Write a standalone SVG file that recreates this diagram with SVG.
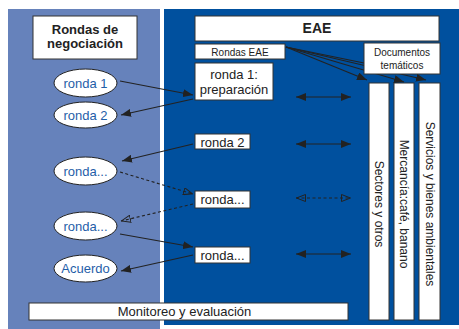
<svg xmlns="http://www.w3.org/2000/svg" width="459" height="329" viewBox="0 0 459 329">
<defs>
<style>
.box{fill:#fff;stroke:#333;stroke-width:1}
.t{font-family:"Liberation Sans",Arial,sans-serif;fill:#222;text-anchor:middle}
.b{font-weight:bold}
.el{fill:#fff;stroke:#222;stroke-width:1}
.et{font-family:"Liberation Sans",Arial,sans-serif;fill:#1f5ea8;text-anchor:middle;font-size:13px}
.c{stroke:#222;stroke-width:1.1;fill:none}
.d{stroke-dasharray:3,2.5}
</style>
<marker id="af" viewBox="0 0 10 8" refX="10" refY="4" markerWidth="10" markerHeight="8" markerUnits="userSpaceOnUse" orient="auto-start-reverse">
<path d="M0,0 L10,4 L0,8 Z" fill="#222"/>
</marker>
<marker id="ao" viewBox="0 0 10 8" refX="10" refY="4" markerWidth="10" markerHeight="8" markerUnits="userSpaceOnUse" orient="auto-start-reverse">
<path d="M0.5,0.5 L9.5,4 L0.5,7.5 Z" fill="none" stroke="#222" stroke-width="1"/>
</marker>
</defs>
<rect x="0" y="0" width="459" height="329" fill="#fff"/>
<rect x="8" y="9" width="152" height="320" fill="#6682bb"/>
<rect x="164" y="9" width="295" height="316" fill="#00509e"/>

<g id="rondas-negociacion">
<rect class="box" x="33" y="16" width="104" height="43"/>
<text class="t b" x="85" y="34" font-size="13">Rondas de</text>
<text class="t b" x="85" y="48" font-size="13">negociación</text>
</g>

<g id="eae">
<rect class="box" x="195" y="16" width="244" height="25"/>
<text class="t b" x="317" y="33" font-size="14">EAE</text>
</g>
<g id="rondas-eae">
<rect class="box" x="195" y="44" width="90" height="15"/>
<text class="t" x="240" y="55.5" font-size="10">Rondas EAE</text>
</g>

<g id="box-ronda1">
<rect class="box" x="195" y="63" width="78" height="37"/>
<text class="t" x="234" y="79" font-size="13">ronda 1:</text>
<text class="t" x="234" y="93.5" font-size="13">preparación</text>
</g>
<g id="box-ronda2">
<rect class="box" x="195" y="134" width="55" height="15"/>
<text class="t" x="222.5" y="146.5" font-size="13">ronda 2</text>
</g>
<g id="box-ronda3">
<rect class="box" x="195" y="191" width="55" height="17"/>
<text class="t" x="222.5" y="204" font-size="13">ronda...</text>
</g>
<g id="box-ronda4">
<rect class="box" x="195" y="247" width="55" height="16"/>
<text class="t" x="222.5" y="259.5" font-size="13">ronda...</text>
</g>

<g id="col-sectores">
<rect class="box" x="369" y="83" width="20" height="237"/>
<text class="t" transform="translate(375,204) rotate(90)" font-size="12">Sectores y otros</text>
</g>
<g id="col-mercancia">
<rect class="box" x="394" y="83" width="20" height="237"/>
<text class="t" transform="translate(400,204) rotate(90)" font-size="12">Mercancía:café, banano</text>
</g>
<g id="col-servicios">
<rect class="box" x="419" y="83" width="21" height="237"/>
<text class="t" transform="translate(425.5,204) rotate(90)" font-size="12">Servicios y bienes ambientales</text>
</g>

<g id="el-ronda1">
<ellipse class="el" cx="85.5" cy="83" rx="31.5" ry="14"/>
<text class="et" x="85.5" y="87.5">ronda 1</text>
</g>
<g id="el-ronda2">
<ellipse class="el" cx="85.5" cy="115" rx="31.5" ry="13"/>
<text class="et" x="85.5" y="119.5">ronda 2</text>
</g>
<g id="el-ronda3">
<ellipse class="el" cx="85.5" cy="171" rx="31.5" ry="14"/>
<text class="et" x="85.5" y="175.5">ronda...</text>
</g>
<g id="el-ronda4">
<ellipse class="el" cx="85.5" cy="226" rx="31.5" ry="14"/>
<text class="et" x="85.5" y="230.5">ronda...</text>
</g>
<g id="el-acuerdo">
<ellipse class="el" cx="85.5" cy="268.5" rx="31.5" ry="13.5"/>
<text class="et" x="85.5" y="273">Acuerdo</text>
</g>

<g id="monitoreo">
<rect class="box" x="29" y="303" width="319" height="17"/>
<text class="t" x="184.5" y="316" font-size="13">Monitoreo y evaluación</text>
</g>

<g id="connectors">
<line class="c" x1="120" y1="81" x2="193" y2="95" marker-end="url(#af)"/>
<line class="c" x1="193" y1="99" x2="121" y2="115" marker-end="url(#af)"/>
<line class="c" x1="193" y1="144" x2="122" y2="161" marker-end="url(#af)"/>
<line class="c d" x1="120" y1="172" x2="193" y2="194" marker-end="url(#ao)"/>
<line class="c d" x1="193" y1="204" x2="121" y2="221" marker-end="url(#ao)"/>
<line class="c" x1="120" y1="234" x2="193" y2="247" marker-end="url(#af)"/>
<line class="c" x1="193" y1="255" x2="121" y2="271" marker-end="url(#af)"/>

<line class="c" x1="296" y1="97" x2="351" y2="97" marker-start="url(#af)" marker-end="url(#af)"/>
<line class="c" x1="296" y1="144" x2="351" y2="144" marker-start="url(#af)" marker-end="url(#af)"/>
<line class="c d" x1="296" y1="198" x2="351" y2="198" marker-start="url(#ao)" marker-end="url(#ao)"/>
<line class="c" x1="296" y1="254" x2="351" y2="254" marker-start="url(#af)" marker-end="url(#af)"/>

<line class="c" x1="286" y1="47" x2="367" y2="80" marker-end="url(#af)"/>
<line class="c" x1="286" y1="47" x2="404" y2="82" marker-end="url(#af)"/>
<line class="c" x1="286" y1="47" x2="426" y2="80" marker-end="url(#af)"/>
<line class="c" x1="286" y1="47" x2="364" y2="63"/>
</g>

<g id="documentos">
<rect class="box" x="364" y="43" width="76" height="31"/>
<text class="t" x="402" y="55.5" font-size="10">Documentos</text>
<text class="t" x="402" y="68.5" font-size="10">temáticos</text>
</g>
</svg>
